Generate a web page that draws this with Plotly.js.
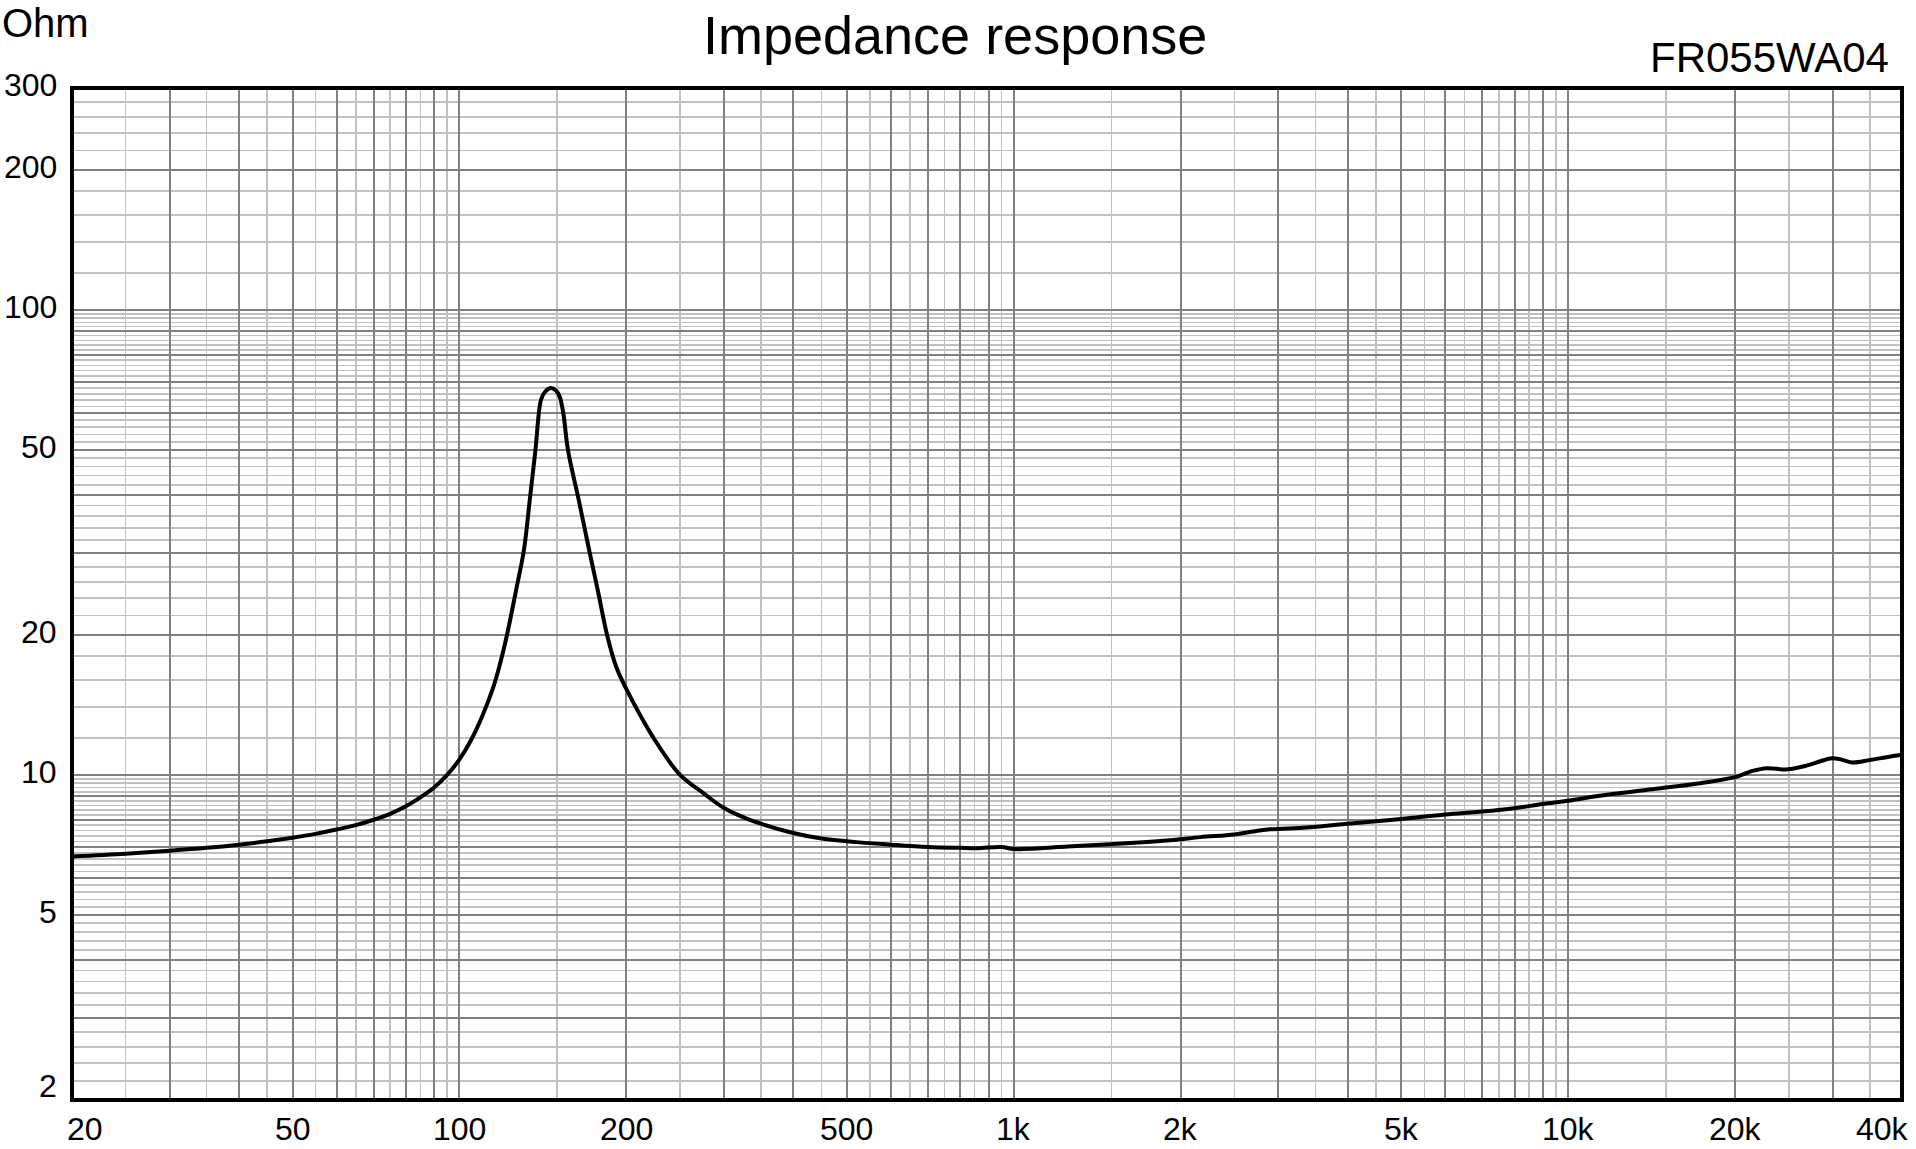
<!DOCTYPE html>
<html>
<head>
<meta charset="utf-8">
<script src="https://cdn.plot.ly/plotly-3.0.1.min.js"></script>
<style>
  html, body { margin: 0; padding: 0; background: #fff; }
  #chart { width: 1916px; height: 1149px; }
</style>
</head>
<body>
<div id="chart"></div>
<script>
// ---- Data ----
const freqHz = [20, 25, 30, 35, 40, 45, 50, 55, 60, 65, 70, 75, 80, 85, 90, 95, 100, 105, 110, 115, 118, 121.8, 126.2, 130.7, 133.9, 137.1, 140.3, 142.6, 146, 149.3, 151.5, 153.9, 156.9, 164.1, 171.3, 177.8, 184.6, 192, 204.7, 225, 250, 275, 300, 334, 400, 450, 520, 600, 700, 800, 860, 950, 1000, 1100, 1250, 1430, 1650, 1940, 2170, 2500, 2700, 2900, 3200, 3600, 4000, 5000, 6000, 7000, 8000, 9000, 10000, 11400, 14000, 17300, 20000, 21500, 22800, 24900, 26900, 28500, 29900, 31000, 32500, 35000, 37500, 40000];
const impedanceOhm = [6.68, 6.77, 6.87, 6.97, 7.08, 7.2, 7.33, 7.47, 7.63, 7.8, 8.01, 8.25, 8.56, 8.95, 9.4, 10.0, 10.8, 11.9, 13.4, 15.4, 17.1, 20.0, 24.6, 30.5, 39.0, 50.0, 64.1, 66.6, 67.9, 67.1, 65.2, 60.0, 50.0, 39.0, 30.5, 24.8, 20.0, 17.0, 14.5, 11.9, 10.0, 9.15, 8.49, 8.01, 7.5, 7.3, 7.17, 7.08, 7.0, 6.97, 6.96, 7.0, 6.93, 6.95, 7.02, 7.08, 7.15, 7.25, 7.35, 7.45, 7.56, 7.64, 7.68, 7.76, 7.85, 8.04, 8.22, 8.34, 8.48, 8.66, 8.8, 9.02, 9.3, 9.6, 9.89, 10.2, 10.34, 10.28, 10.47, 10.7, 10.86, 10.8, 10.64, 10.77, 10.92, 11.05];

const xTickVals = [20, 50, 100, 200, 500, 1000, 2000, 5000, 10000, 20000, 40000];
const xTickText = ['20', '50', '100', '200', '500', '1k', '2k', '5k', '10k', '20k', '40k'];
const yTickVals = [2, 5, 10, 20, 50, 100, 200, 300];
const yTickText = ['2', '5', '10', '20', '50', '100', '200', '300'];

const titleText = 'Impedance response';
const modelText = 'FR055WA04';
const unitText = 'Ohm';

// ---- Grid positions (log-paper style) ----
const xMajor = [], xMinor = [];
[10, 100, 1000, 10000].forEach(d => {
  for (let m = 1; m <= 9; m++) {
    const v = m * d;
    if (v >= 20 && v <= 40000) xMajor.push(v);
    const h = (m + 0.5) * d;
    if (h > 20 && h < 40000) xMinor.push(h);
  }
});
const yMajor = [], yMinor = [];
for (let v = 2; v <= 10; v++) yMajor.push(v);
for (let v = 20; v <= 100; v += 10) yMajor.push(v);
yMajor.push(200, 300);
for (let i = 10; i < 50; i++) { const v = i / 5; if (i % 5 !== 0) yMinor.push(v); }
for (let v = 12; v < 100; v += 2) { if (v % 10 !== 0) yMinor.push(v); }
for (let v = 120; v < 300; v += 20) { if (v !== 200) yMinor.push(v); }

const FONT = 'Liberation Sans, Arial, Helvetica, sans-serif';

const trace = {
  x: freqHz, y: impedanceOhm, type: 'scatter', mode: 'lines',
  line: { color: '#000', width: 4, shape: 'spline', smoothing: 1.0 },
  hoverinfo: 'skip'
};

const annotations = [];
xTickVals.forEach((v, i) => {
  let xs = 0;
  if (i === 0) xs = 13;
  if (i === xTickVals.length - 1) xs = -20;
  annotations.push({
    x: Math.log10(v), xref: 'x', y: 0, yref: 'paper', yanchor: 'top', xanchor: 'center',
    yshift: -9, xshift: xs, text: xTickText[i], showarrow: false,
    font: { family: FONT, size: 32, color: '#000' }
  });
});
yTickVals.forEach((v, i) => {
  annotations.push({
    x: 0, xref: 'paper', y: Math.log10(v), yref: 'y', xanchor: 'right', yanchor: 'middle',
    xshift: -13, yshift: (i === 0 ? 14 : 3), text: yTickText[i], showarrow: false,
    font: { family: FONT, size: 32, color: '#000' }
  });
});
annotations.push({
  x: 0, xref: 'paper', y: 1, yref: 'paper', xanchor: 'left', yanchor: 'top',
  xshift: -71, yshift: 88, borderpad: 0, text: unitText, showarrow: false,
  font: { family: FONT, size: 40, color: '#000' }
});
annotations.push({
  x: 1, xref: 'paper', y: 1, yref: 'paper', xanchor: 'right', yanchor: 'bottom',
  xshift: -11, yshift: 5, text: modelText, showarrow: false,
  font: { family: FONT, size: 42, color: '#000' }
});

const layout = {
  width: 1916, height: 1149,
  margin: { l: 72, r: 14, t: 88, b: 49, pad: 0 },
  paper_bgcolor: '#fff', plot_bgcolor: '#fff',
  showlegend: false,
  title: {
    text: titleText, xref: 'container', x: 0.4985, xanchor: 'center',
    yref: 'container', y: 1 - 35 / 1149, yanchor: 'middle',
    font: { family: FONT, size: 54, color: '#000' }
  },
  xaxis: {
    type: 'log', range: [Math.log10(20), Math.log10(40000)],
    tickmode: 'array', tickvals: xMajor, showticklabels: false, ticks: '',
    showgrid: true, gridcolor: '#808080', gridwidth: 2,
    minor: { tickmode: 'array', tickvals: xMinor, showgrid: true, gridcolor: '#c0c0c0', gridwidth: 1.5, ticks: '' },
    zeroline: false, showline: false, fixedrange: true
  },
  yaxis: {
    type: 'log', range: [Math.log10(2), Math.log10(300)],
    tickmode: 'array', tickvals: yMajor, showticklabels: false, ticks: '',
    showgrid: true, gridcolor: '#808080', gridwidth: 2,
    minor: { tickmode: 'array', tickvals: yMinor, showgrid: true, gridcolor: '#c0c0c0', gridwidth: 1.5, ticks: '' },
    zeroline: false, showline: false, fixedrange: true
  },
  shapes: [{
    type: 'rect', xref: 'paper', yref: 'paper', x0: 0, x1: 1, y0: 0, y1: 1,
    line: { color: '#000', width: 4 }, layer: 'above'
  }],
  annotations: annotations
};

Plotly.newPlot('chart', [trace], layout, { displayModeBar: false, staticPlot: true });
</script>
</body>
</html>
